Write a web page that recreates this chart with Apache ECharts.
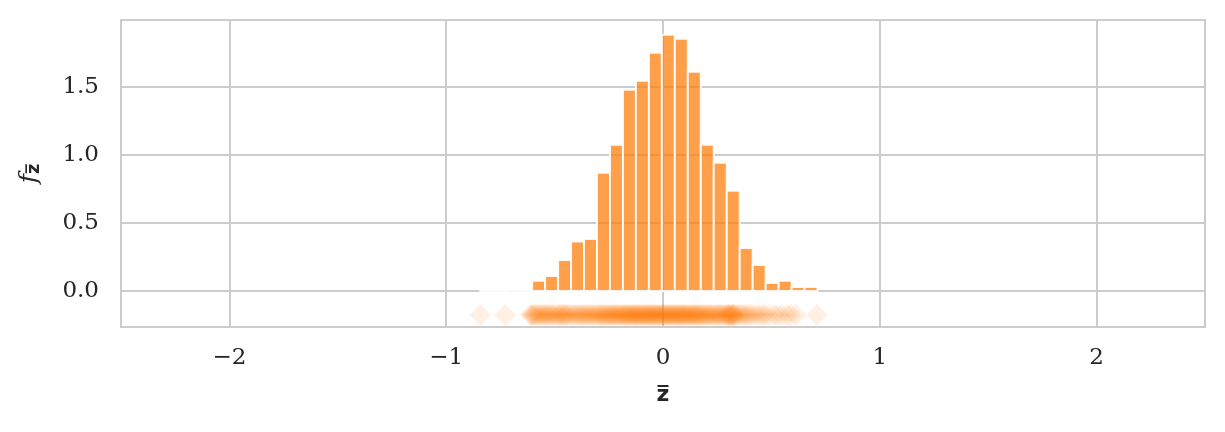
<!DOCTYPE html>
<html>
<head>
<meta charset="utf-8">
<script src="https://cdn.jsdelivr.net/npm/echarts@6/dist/echarts.min.js"></script>
<style>html,body{margin:0;padding:0;background:#fff}#c{width:1225px;height:432px}</style>
</head>
<body>
<div id="c"></div>
<script>
// Histogram: 26 equal bins from the data minimum to maximum
const binMin = -0.843;
const binMax = 0.713;
const densities = [0.003, 0.0, 0.006, 0.0, 0.074, 0.110, 0.228, 0.363, 0.382, 0.868, 1.074, 1.478, 1.544,
  1.750, 1.882, 1.853, 1.610, 1.074, 0.941, 0.735, 0.316, 0.191, 0.059, 0.074, 0.029, 0.029];
// Rug of the raw sample values
const rugValues = [
  -0.843, -0.728,
  -0.612, -0.605, -0.601, -0.594, -0.588, -0.580, -0.574, -0.566, -0.559, -0.553,
  -0.546, -0.539, -0.533, -0.527, -0.518, -0.512, -0.506, -0.497, -0.489,
  -0.481, -0.476, -0.472, -0.463, -0.455, -0.451, -0.447, -0.438, -0.430,
  -0.420, -0.412, -0.404, -0.397, -0.389, -0.381, -0.374, -0.367,
  -0.360, -0.352, -0.345, -0.338, -0.331, -0.323, -0.316, -0.309,
  -0.301, -0.295, -0.289, -0.283, -0.277, -0.271, -0.265, -0.259, -0.253, -0.247,
  -0.242, -0.237, -0.231, -0.226, -0.221, -0.215, -0.210, -0.204, -0.199, -0.193, -0.188,
  -0.183, -0.178, -0.174, -0.169, -0.164, -0.159, -0.154, -0.150, -0.145, -0.140, -0.135, -0.131, -0.127,
  -0.122, -0.118, -0.113, -0.108, -0.104, -0.099, -0.094, -0.090, -0.085, -0.080, -0.076, -0.071, -0.067,
  -0.062, -0.058, -0.053, -0.049, -0.044, -0.040, -0.035, -0.031, -0.026, -0.022, -0.017, -0.013, -0.008,
  -0.003, 0.002, 0.006, 0.011, 0.015, 0.020, 0.024, 0.029, 0.033, 0.038, 0.042, 0.047, 0.051,
  0.057, 0.061, 0.066, 0.070, 0.075, 0.079, 0.084, 0.088, 0.093, 0.097, 0.102, 0.106, 0.111,
  0.117, 0.122, 0.127, 0.131, 0.136, 0.141, 0.146, 0.150, 0.155, 0.160, 0.165, 0.170,
  0.176, 0.182, 0.187, 0.193, 0.199, 0.205, 0.211, 0.216, 0.222, 0.228,
  0.236, 0.242, 0.248, 0.254, 0.260, 0.266, 0.272, 0.279, 0.285, 0.291,
  0.296, 0.300, 0.303, 0.307, 0.310, 0.316, 0.319, 0.322, 0.325, 0.328, 0.334, 0.341, 0.348,
  0.357, 0.366, 0.375, 0.384, 0.394, 0.404,
  0.418, 0.431, 0.445, 0.459, 0.470,
  0.488, 0.512, 0.529,
  0.548, 0.571, 0.589,
  0.612, 0.709
];
const rugY = -0.176;
const xRange = [-2.5, 2.5];
const yRange = [-0.265, 1.99];

const nBins = densities.length;
const bw = (binMax - binMin) / nBins;
const histData = densities.map((d, i) => [binMin + i * bw, binMin + (i + 1) * bw, d]);
const rugData = rugValues.map(v => [v, rugY]);

const chart = echarts.init(document.getElementById('c'), null, {renderer: 'canvas'});
const tickText = {fontFamily: 'DejaVu Serif', fontSize: 23, color: '#262626'};
const minus = v => (v < 0 ? '\u2212' + String(-v) : String(v));
chart.setOption({
  animation: false,
  backgroundColor: '#ffffff',
  grid: {left: 121, right: 20, top: 20, bottom: 105, show: true, borderColor: '#cccccc', borderWidth: 2, backgroundColor: 'transparent'},
  xAxis: {
    type: 'value', min: xRange[0], max: xRange[1], splitNumber: 5,
    axisLine: {show: false}, axisTick: {show: false},
    axisLabel: Object.assign({margin: 20, showMinLabel: false, showMaxLabel: false, formatter: v => minus(v)}, tickText),
    splitLine: {show: true, lineStyle: {color: '#cccccc', width: 2}},
    name: 'z\u0305', nameLocation: 'middle', nameGap: 57,
    nameTextStyle: {fontFamily: 'DejaVu Sans', fontWeight: 'bold', fontSize: 22, color: '#262626'}
  },
  yAxis: {
    type: 'value', min: yRange[0], max: yRange[1], splitNumber: 5,
    axisLine: {show: false}, axisTick: {show: false},
    axisLabel: Object.assign({margin: 22, showMinLabel: false, showMaxLabel: false, formatter: v => v.toFixed(1)}, tickText),
    splitLine: {show: true, lineStyle: {color: '#cccccc', width: 2}},
    name: '{f|f}{z|z\u0305}', nameLocation: 'middle', nameGap: 78, nameRotate: 90,
    nameTextStyle: {
      color: '#262626',
      rich: {
        f: {fontFamily: 'DejaVu Serif', fontStyle: 'italic', fontSize: 25, color: '#262626'},
        z: {fontFamily: 'DejaVu Sans', fontWeight: 'bold', fontSize: 18, color: '#262626', padding: [10, 0, 0, 0]}
      }
    }
  },
  series: [
    {
      type: 'custom',
      data: histData,
      encode: {x: [0, 1], y: 2},
      renderItem: function (params, api) {
        const p0 = api.coord([api.value(0), 0]);
        const p1 = api.coord([api.value(1), api.value(2)]);
        return {
          type: 'rect',
          shape: {x: p0[0], y: p1[1], width: p1[0] - p0[0], height: p0[1] - p1[1]},
          style: {fill: 'rgba(255,127,14,0.75)', stroke: 'rgba(255,255,255,0.9)', lineWidth: 2}
        };
      }
    },
    {
      type: 'scatter',
      data: rugData,
      symbol: 'diamond',
      symbolSize: [21, 22],
      itemStyle: {color: 'rgba(255,127,14,0.15)'}
    }
  ]
});
</script>
</body>
</html>
